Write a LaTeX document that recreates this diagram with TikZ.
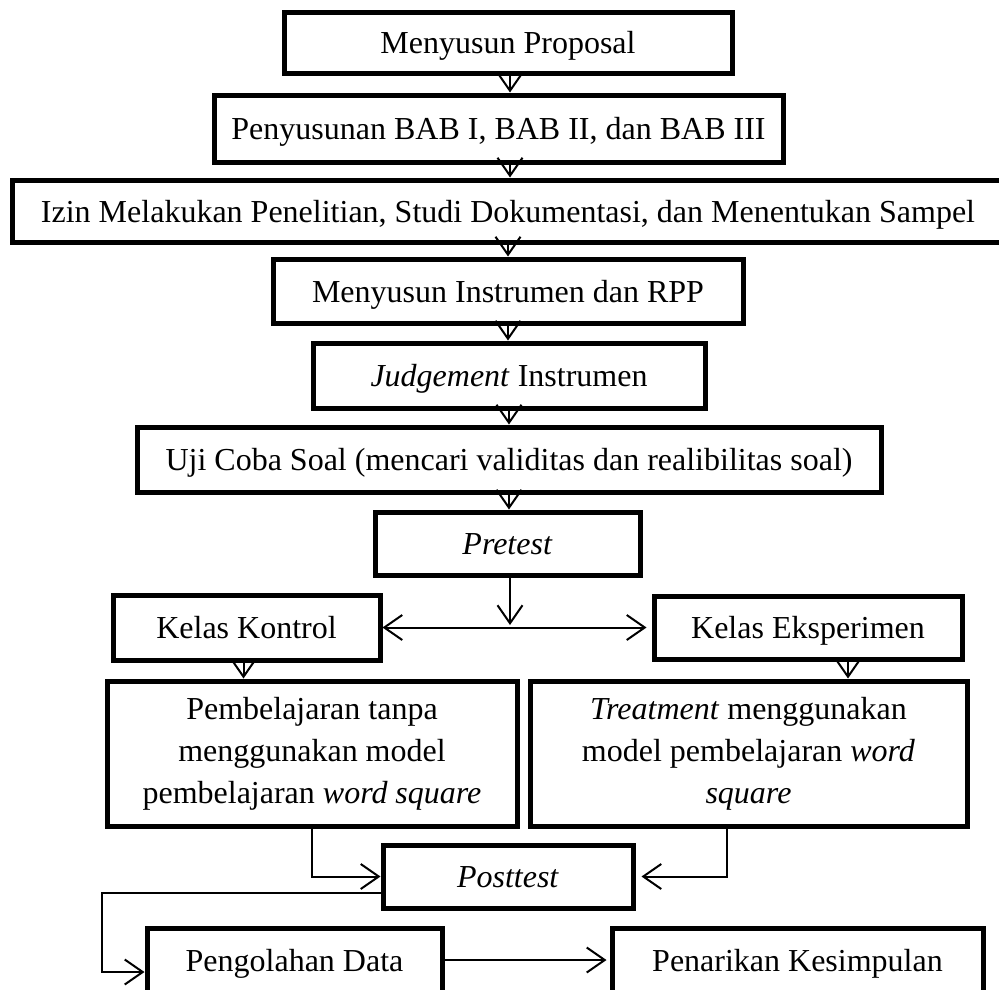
\documentclass[tikz,border=0pt]{standalone}
\usepackage{fontspec}
\setmainfont{Liberation Serif}
\usetikzlibrary{arrows.meta,calc}
\begin{document}
\begin{tikzpicture}[x=1pt,y=-1pt,
  box/.style={draw, line width=5pt, inner sep=0pt, align=center,
    font=\fontsize{32}{42}\selectfont},
  one/.style={text height=22pt, text depth=0pt},
  tip/.tip={Straight Barb[length=18pt,width=25pt]},
  arr/.style={line width=2pt, -tip},
  darr/.style={line width=2pt, tip-tip},
]
\useasboundingbox (0,0) rectangle (999,989);

\node[box, one, minimum width=448pt, minimum height=61pt] (b1) at (508,42.5) {Menyusun Proposal};
\node[box, one, minimum width=569pt, minimum height=67pt] (b2) at (498.5,128.5) {Penyusunan BAB I, BAB II, dan BAB III};
\node[box, one, minimum width=992pt, minimum height=62pt] (b3) at (508,211) {Izin Melakukan Penelitian, Studi Dokumentasi, dan Menentukan Sampel};
\node[box, one, minimum width=470pt, minimum height=64pt] (b4) at (508,291) {Menyusun Instrumen dan RPP};
\node[box, one, minimum width=392pt, minimum height=65pt] (b5) at (509,375.5) {\textit{Judgement} Instrumen};
\node[box, one, minimum width=744pt, minimum height=65pt] (b6) at (509,459.5) {Uji Coba Soal (mencari validitas dan realibilitas soal)};
\node[box, one, minimum width=265pt, minimum height=63pt] (b7) at (507.5,543.5) {\textit{Pretest}};
\node[box, one, minimum width=267pt, minimum height=65pt] (b8) at (246.5,627.5) {Kelas Kontrol};
\node[box, one, minimum width=308pt, minimum height=63pt] (b9) at (808,627.5) {Kelas Eksperimen};
\node[box, minimum width=410pt, minimum height=145pt] (b10) at (312,753.5) {Pembelajaran tanpa\\menggunakan model\\pembelajaran \textit{word square}};
\node[box, minimum width=437pt, minimum height=145pt] (b11) at (748.5,753.5) {\textit{Treatment} menggunakan\\model pembelajaran \textit{word}\\\textit{square}};
\node[box, one, minimum width=250pt, minimum height=63pt] (b12) at (508,876.5) {\textit{Posttest}};
\node[box, one, minimum width=295pt, minimum height=64pt] (b13) at (294.5,960) {Pengolahan Data};
\node[box, one, minimum width=371pt, minimum height=64pt] (b14) at (797.5,960) {Penarikan Kesimpulan};

\draw[arr] ([xshift=2pt]b1.south) -- ([xshift=2pt]b1.south |- b2.north);
\draw[arr] ([xshift=2pt]b1.south |- b2.south) -- ([xshift=2pt]b1.south |- b3.north);
\draw[arr] (b3.south) -- (b3.south |- b4.north);
\draw[arr] (b4.south) -- (b4.south |- b5.north);
\draw[arr] (b5.south) -- (b5.south |- b6.north);
\draw[arr] (b6.south) -- (b6.south |- b7.north);

\coordinate (split) at (510,625);
\draw[arr] ([xshift=2.5pt]b7.south) -- (split);
\draw[darr, shorten >=5pt] (b8.east) -- (b9.west);

\draw[arr] ([xshift=-3pt]b8.south) -- ([xshift=-3pt]b8.south |- b10.north);
\draw[arr] ([xshift=40pt]b9.south) -- ([xshift=40pt]b9.south |- b11.north);

\draw[arr] (b10.south) |- (b12.west);
\draw[arr, shorten >=6pt] ([xshift=-21.5pt]b11.south) |- (b12.east);

\coordinate (c1) at (102,893);
\coordinate (c2) at (102,972);
\draw[arr] ([yshift=-16.5pt]b12.west) -- (c1) -- (c2) -- (c2 -| b13.west);
\draw[arr, shorten >=3pt] (b13.east) -- (b14.west);
\end{tikzpicture}
\end{document}
